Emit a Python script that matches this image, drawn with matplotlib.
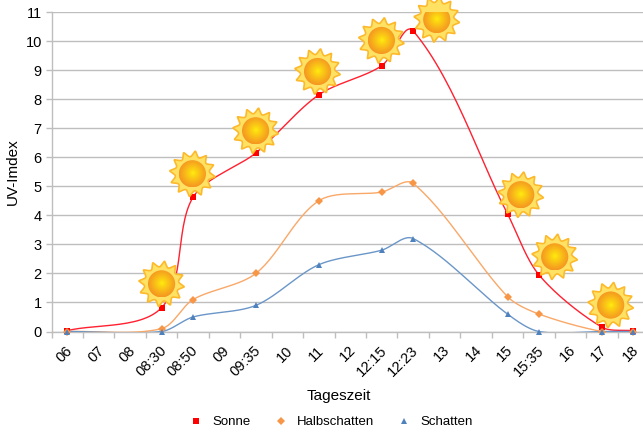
#!/usr/bin/env python3
# -*- coding: utf-8 -*-
"""UV-Index im Tagesverlauf: Sonne, Halbschatten, Schatten"""

import numpy as np
import matplotlib
matplotlib.use('Agg')
import matplotlib.pyplot as plt
from matplotlib.patches import Polygon, Ellipse
from matplotlib.transforms import ScaledTranslation

plt.rcParams['font.family'] = ['Liberation Sans', 'DejaVu Sans']

categories = ['06', '07', '08', '08:30', '08:50', '09', '09:35', '10', '11', '12',
              '12:15', '12:23', '13', '14', '15', '15:35', '16', '17', '18']
measured = ['06', '08:30', '08:50', '09:35', '11', '12:15', '12:23', '15', '15:35', '17', '18']

sonne = [0.03, 0.82, 4.62, 6.15, 8.15, 9.15, 10.35, 4.05, 1.95, 0.15, 0.03]
halbschatten = [0, 0.1, 1.1, 2.0, 4.5, 4.8, 5.1, 1.2, 0.6, 0, 0]
schatten = [0, 0, 0.5, 0.9, 2.3, 2.8, 3.2, 0.6, 0, 0, 0]

# Sonnen-Bilder, Mittelpunkt in Achsenkoordinaten
sun_x = [3.0, 3.98, 5.99, 7.96, 9.99, 11.75, 14.42, 15.5, 17.28]
sun_y = [1.64, 5.43, 6.91, 8.95, 10.02, 10.74, 4.71, 2.57, 0.91]


def smooth(x, y, px_x, px_y, n=30):
    """Bezier-Glaettung wie bei Excel-Linien, Griffe nach Segmentlaenge"""
    p = np.column_stack([np.array(x) * px_x, np.array(y) * px_y]).astype(float)
    p = np.vstack([p[0], p, p[-1]])
    out = []
    t = np.linspace(0, 1, n)[:, None]
    for i in range(1, len(p) - 2):
        seg = np.linalg.norm(p[i + 1] - p[i])
        d1 = p[i + 1] - p[i - 1]
        d2 = p[i + 2] - p[i]
        c1 = p[i] + d1 / max(np.linalg.norm(d1), 1e-9) * seg * 0.3
        c2 = p[i + 1] - d2 / max(np.linalg.norm(d2), 1e-9) * seg * 0.3
        out.append((1 - t)**3 * p[i] + 3 * (1 - t)**2 * t * c1
                   + 3 * (1 - t) * t**2 * c2 + t**3 * p[i + 1])
    out = np.vstack(out)
    return out[:, 0] / px_x, out[:, 1] / px_y


def draw_sun(ax, cx, cy, px_x, px_y):
    """Sonne mit 12 Zacken und radialem Verlauf"""
    ang = np.linspace(0, 2 * np.pi, 721)
    r = 17.2 + 5.8 * (1 - np.abs(np.sin(6 * (ang + 0.13))))
    pts = np.column_stack([cx + r * np.cos(ang) / px_x, cy + r * np.sin(ang) / px_y])
    ax.add_patch(Polygon(pts, closed=True, facecolor='#FFE264', edgecolor='#FDB92C',
                         linewidth=1.2, zorder=6, clip_on=False))
    # Verlauf im Inneren
    g = np.linspace(-1, 1, 80)
    gx, gy = np.meshgrid(g, g)
    d = np.clip(np.hypot(gx, gy), 0, 1)[..., None]
    inner = np.array([1.0, 0.93, 0.05])
    outer = np.array([0.96, 0.59, 0.13])
    img = inner + (outer - inner) * d**0.9
    R = 13.6
    extent = [cx - R / px_x, cx + R / px_x, cy - R / px_y, cy + R / px_y]
    im = ax.imshow(img, extent=extent, aspect='auto', zorder=7, origin='lower',
                   interpolation='bilinear')
    im.set_clip_path(Ellipse((cx, cy), 2 * R / px_x, 2 * R / px_y, transform=ax.transData))


fig = plt.figure(figsize=(6.43, 4.37), dpi=100)
W, H = 643.0, 437.0
left, right, top, bottom = 51.5, 643.0, 12.0, 331.5
ax = fig.add_axes([left / W, 1 - bottom / H, (right - left) / W, (bottom - top) / H])

step = 31.45
px_y = (bottom - top) / 11
xmax = -0.5 + (right - left) / step

xpos = [categories.index(c) for c in measured]

for values, color, line_color, marker, ms, name in [
    (sonne, '#FF0000', '#FF2030', 's', 4.4, 'Sonne'),
    (halbschatten, '#F79646', '#F9A868', 'D', 3.8, 'Halbschatten'),
    (schatten, '#4F81BD', '#6A96C8', '^', 4.6, 'Schatten'),
]:
    cx, cy = smooth(xpos, values, step, px_y)
    ax.plot(cx, cy, color=line_color, linewidth=1.0, zorder=3)
    ax.plot(xpos, values, linestyle='none', marker=marker, color=color, markersize=ms,
            markeredgewidth=0, clip_on=False, zorder=4, label=name)

for sx, sy in zip(sun_x, sun_y):
    draw_sun(ax, sx, sy, step, px_y)
ax.set_xlim(-0.5, xmax)
ax.set_ylim(0, 11)

ax.set_yticks(range(12))
ax.yaxis.grid(True, color='#BEBEBE', linewidth=1.0)
ax.set_axisbelow(True)
ax.set_xticks(np.arange(-0.5, xmax, 1), minor=False)
ax.set_xticklabels([])
ax.set_xticks(range(len(categories)), minor=True)
ax.set_xticklabels(categories, minor=True, rotation=45, ha='right', va='center',
                   rotation_mode='anchor', fontsize=10.5)
ax.tick_params(axis='x', which='minor', length=0, pad=12)
ax.tick_params(axis='x', which='major', length=4, width=1, color='#BEBEBE')
ax.tick_params(axis='y', length=4, width=1, color='#BEBEBE', labelsize=10.5, pad=3)
shift = ScaledTranslation(3 / 100, 0, fig.dpi_scale_trans)
for lab in ax.get_xticklabels(minor=True):
    lab.set_transform(lab.get_transform() + shift)
for s in ['top', 'right']:
    ax.spines[s].set_visible(False)
for s in ['left', 'bottom']:
    ax.spines[s].set_color('#BEBEBE')
    ax.spines[s].set_linewidth(1.0)

fig.text(339 / W, 1 - 396 / H, 'Tageszeit', ha='center', va='center', fontsize=11)
fig.text(13 / W, 1 - 172 / H, 'UV-Imdex', ha='center', va='center', rotation=90, fontsize=11)

ax.legend(loc='center', bbox_to_anchor=(331 / W, 1 - 422 / H), bbox_transform=fig.transFigure,
          ncol=3, frameon=False, fontsize=9.5, handlelength=1.0, handletextpad=0.7,
          columnspacing=1.8)

fig.savefig('out.png', dpi=100)
